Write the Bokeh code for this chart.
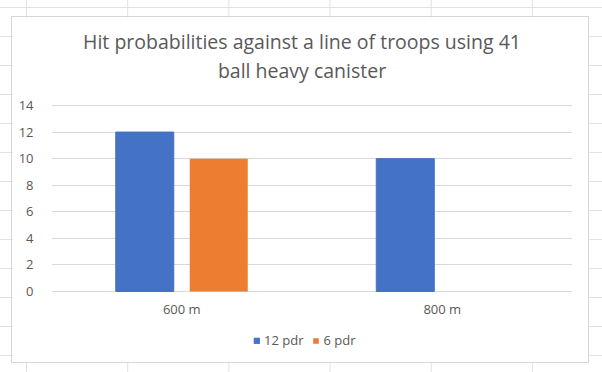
from bokeh.plotting import figure
from bokeh.layouts import column
from bokeh.models import Label, Legend, LegendItem, ColumnDataSource, FactorRange, Range1d, FixedTicker
from bokeh.core.properties import value
from bokeh.transform import dodge
from bokeh.embed import file_html
from bokeh.resources import INLINE

categories = ["600 m", "800 m"]
series_names = ["12 pdr", "6 pdr"]
pdr12 = [12, 10]
pdr6 = [10, 0]
y_ticks = [0, 2, 4, 6, 8, 10, 12, 14]
title_lines = ["Hit probabilities against a line of troops using 41", "ball heavy canister"]
colors = ["#4472C4", "#ED7D31"]

FONT = "Open Sans"
TXT = "#595959"
GRID = "#D9D9D9"

source = ColumnDataSource(data=dict(cat=categories, s12=pdr12, s6=pdr6))

# frame spans full canvas height; value axis 0..14 occupies the middle
p = figure(x_range=FactorRange(*categories), y_range=Range1d(-5.495, 20.624),
           width=578, height=347, output_backend="svg", toolbar_location=None,
           min_border_left=39, min_border_right=18, min_border_top=0, min_border_bottom=0,
           margin=(16, 0, 0, 11), styles={"border": "1px solid #d6d6d6"})
p.outline_line_color = None
p.background_fill_color = "white"
p.border_fill_color = "white"

r1 = p.vbar(x=dodge("cat", -0.142, range=p.x_range), top="s12", width=0.2227,
            source=source, fill_color=colors[0], line_color=colors[0])
r2 = p.vbar(x=dodge("cat", 0.142, range=p.x_range), top="s6", width=0.2227,
            source=source, fill_color=colors[1], line_color=None)

p.xgrid.grid_line_color = None
p.ygrid.grid_line_color = GRID
p.ygrid.grid_line_width = 1
p.ygrid.ticker = FixedTicker(ticks=y_ticks)
p.yaxis.ticker = FixedTicker(ticks=y_ticks)
p.yaxis.axis_line_color = None
p.yaxis.major_tick_line_color = None
p.yaxis.minor_tick_line_color = None
p.yaxis.major_label_standoff = 12
p.yaxis.major_label_text_font = FONT
p.yaxis.major_label_text_font_size = "13px"
p.yaxis.major_label_text_color = TXT
p.xaxis.visible = False

# category labels under the baseline
p.text(x=categories, y=[0] * len(categories), text=categories, y_offset=18,
       text_align="center", text_baseline="middle", text_font=value(FONT),
       text_font_size="13px", text_color=TXT)

legend = Legend(items=[LegendItem(label=series_names[0], renderers=[r1]),
                       LegendItem(label=series_names[1], renderers=[r2])],
                orientation="horizontal", location=(202, 15))
legend.glyph_width = 7
legend.glyph_height = 7
legend.label_standoff = 4
legend.spacing = 9
legend.padding = 0
legend.margin = 0
legend.border_line_color = None
legend.background_fill_alpha = 0
legend.label_text_font = FONT
legend.label_text_font_size = "13px"
legend.label_text_color = TXT
legend.label_height = 12
p.add_layout(legend)

for ytxt, line in zip([18.81, 16.63], title_lines):
    p.add_layout(Label(x=1, y=ytxt, x_offset=-10, text=line, text_align="center",
                       text_baseline="middle", text_font=FONT, text_font_size="19.5px",
                       text_color=TXT))

# spreadsheet cell grid behind the chart (page decoration)
sheet_bg = ("linear-gradient(to right, #e2e2e2 1px, transparent 1px), "
            "linear-gradient(to bottom, #e2e2e2 1px, transparent 1px)")
page = column(p, width=602, height=372,
              styles={"background-color": "white", "background-image": sheet_bg,
                      "background-size": "101.2px 29px", "background-position": "26px 7px"})

open("out.html", "w").write(file_html(page, INLINE))
